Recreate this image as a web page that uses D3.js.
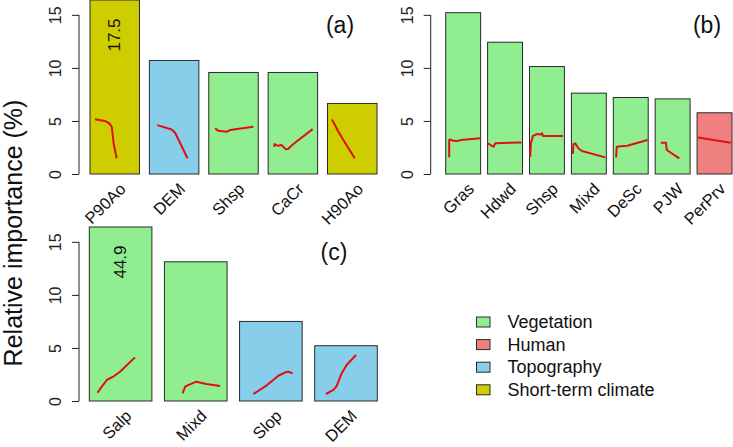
<!DOCTYPE html>
<html>
<head>
<meta charset="utf-8">
<script src="https://cdn.jsdelivr.net/npm/d3@7"></script>
<style>
  html, body { margin: 0; padding: 0; background: #fff; }
  svg { display: block; font-family: "Liberation Sans", Arial, sans-serif; }
</style>
</head>
<body>
<svg id="chart" width="733" height="447"></svg>
<script>
// ---------- data ----------
const groupNames = ["Vegetation", "Human", "Topography", "Short-term climate"];
const groupColors = ["#90EE90", "#F08080", "#87CEEB", "#CDCD00"];
const yTicks = [0, 5, 10, 15];

// Panel (a)
const aVars = ["P90Ao", "DEM", "Shsp", "CaCr", "H90Ao"];
const aValues = [17.5, 10.7, 9.57, 9.57, 6.65];
const aGroups = ["Short-term climate", "Topography", "Vegetation", "Vegetation", "Short-term climate"];
// partial response curves drawn inside each bar: [fraction of bar width, value]
const aCurves = [
  [[0.10, 5.17], [0.30, 5.00], [0.39, 4.77], [0.44, 4.45], [0.48, 2.8], [0.54, 1.48]],
  [[0.16, 4.61], [0.45, 4.20], [0.52, 3.89], [0.77, 1.48]],
  [[0.13, 4.30], [0.19, 4.07], [0.36, 3.98], [0.43, 4.14], [0.90, 4.45]],
  [[0.12, 2.57], [0.13, 2.82], [0.20, 2.66], [0.27, 2.73], [0.36, 2.32], [0.40, 2.35], [0.51, 2.82], [0.90, 4.23]],
  [[0.09, 5.15], [0.22, 3.98], [0.32, 3.20], [0.55, 1.48]]
];

// Panel (b)
const bVars = ["Gras", "Hdwd", "Shsp", "Mixd", "DeSc", "PJW", "PerPrv"];
const bValues = [15.2, 12.42, 10.13, 7.62, 7.21, 7.08, 5.77];
const bGroups = ["Vegetation", "Vegetation", "Vegetation", "Vegetation", "Vegetation", "Vegetation", "Human"];
const bCurves = [
  [[0.10, 1.57], [0.10, 3.20], [0.13, 3.26], [0.22, 3.13], [0.33, 3.10], [0.43, 3.20], [1.00, 3.36]],
  [[0.01, 2.89], [0.12, 2.66], [0.17, 2.57], [0.22, 2.89], [0.97, 2.98]],
  [[0.02, 1.63], [0.04, 2.89], [0.10, 3.60], [0.21, 3.76], [0.31, 3.73], [0.36, 3.83], [0.39, 3.57], [0.96, 3.57]],
  [[0.04, 1.88], [0.06, 2.82], [0.11, 2.89], [0.20, 2.42], [0.30, 2.16], [0.97, 1.57]],
  [[0.08, 1.57], [0.10, 2.57], [0.29, 2.63], [0.40, 2.66], [0.98, 3.20]],
  [[0.16, 2.95], [0.31, 2.95], [0.33, 2.26], [0.69, 1.48]],
  [[0.03, 3.45], [0.96, 2.95]]
];

// Panel (c)
const cVars = ["Salp", "Mixd", "Slop", "DEM"];
const cValues = [44.9, 13.12, 7.5, 5.21];
const cGroups = ["Vegetation", "Vegetation", "Topography", "Topography"];
const cCurves = [
  [[0.13, 0.78], [0.20, 1.35], [0.28, 1.98], [0.38, 2.29], [0.49, 2.76], [0.73, 4.11]],
  [[0.29, 0.72], [0.33, 1.35], [0.38, 1.50], [0.51, 1.82], [0.67, 1.60], [0.89, 1.41]],
  [[0.22, 0.66], [0.44, 1.50], [0.62, 2.38], [0.73, 2.70], [0.78, 2.76], [0.85, 2.60]],
  [[0.18, 0.66], [0.30, 1.04], [0.35, 1.41], [0.43, 2.60], [0.51, 3.39], [0.66, 4.33]]
];

// ---------- drawing ----------
const svg = d3.select("#chart");
const color = d3.scaleOrdinal().domain(groupNames).range(groupColors);
const yMax = 16.4;
const pxPerUnit = 10.61;

function drawPanel(cfg) {
  const { vars, values, groups, curves, bottom, axisX, x0, x1, tag, tagX, tagY } = cfg;
  const g = svg.append("g");
  const y = d3.scaleLinear().domain([0, yMax]).range([bottom, bottom - yMax * pxPerUnit]).clamp(true);
  const x = d3.scaleBand().domain(vars).range([x0, x1]).paddingInner(1 / 6).paddingOuter(0);

  // bars
  g.selectAll("rect.bar").data(vars).join("rect")
    .attr("class", "bar")
    .attr("x", d => x(d))
    .attr("width", x.bandwidth())
    .attr("y", (d, i) => y(values[i]))
    .attr("height", (d, i) => y(0) - y(values[i]))
    .attr("fill", (d, i) => color(groups[i]))
    .attr("stroke", "#2a2a2a")
    .attr("stroke-width", 1);

  // clipped-value annotations
  vars.forEach((d, i) => {
    if (values[i] > yMax) {
      const cx = x(d) + x.bandwidth() / 2;
      const cy = y(yMax) + 35;
      g.append("text")
        .attr("transform", `translate(${cx},${cy}) rotate(-90)`)
        .attr("text-anchor", "middle")
        .attr("dominant-baseline", "central")
        .attr("font-size", 17)
        .attr("fill", "#111")
        .text(values[i].toFixed(1));
    }
  });

  // response curves
  const line = d3.line().x(p => p[0]).y(p => p[1]);
  vars.forEach((d, i) => {
    const pts = curves[i].map(p => [x(d) + p[0] * x.bandwidth(), y(p[1])]);
    g.append("path")
      .attr("d", line(pts))
      .attr("fill", "none")
      .attr("stroke", "#e01010")
      .attr("stroke-width", 2)
      .attr("stroke-linejoin", "round");
  });

  // y axis
  const yAxisScale = d3.scaleLinear().domain([0, yMax]).range([bottom, bottom - yMax * pxPerUnit]);
  const ax = g.append("g").attr("transform", `translate(${axisX},0)`)
    .call(d3.axisLeft(yAxisScale).tickValues(yTicks).tickSize(7).tickSizeOuter(0).tickFormat(d3.format("d")));
  ax.select(".domain").remove();
  ax.append("line")
    .attr("x1", 0).attr("x2", 0)
    .attr("y1", yAxisScale(0)).attr("y2", yAxisScale(15))
    .attr("stroke", "#222");
  ax.selectAll(".tick line").attr("stroke", "#222");
  ax.selectAll(".tick text")
    .attr("x", null).attr("dy", null)
    .attr("transform", "translate(-18,0) rotate(-90)")
    .attr("text-anchor", "middle")
    .attr("font-size", 16)
    .attr("font-family", "Liberation Sans, Arial, sans-serif")
    .attr("fill", "#222");

  // x labels
  g.selectAll("text.xlab").data(vars).join("text")
    .attr("class", "xlab")
    .attr("transform", d => `translate(${x(d) + x.bandwidth() / 2 + 12},${bottom + 16}) rotate(-45)`)
    .attr("text-anchor", "end")
    .attr("font-size", 16.5)
    .attr("fill", "#111")
    .text(d => d);

  // panel tag
  g.append("text")
    .attr("x", tagX).attr("y", tagY)
    .attr("text-anchor", "middle")
    .attr("font-size", 23)
    .attr("fill", "#111")
    .text(tag);
}

drawPanel({ vars: aVars, values: aValues, groups: aGroups, curves: aCurves,
  bottom: 174, axisX: 79, x0: 90, x1: 377, tag: "(a)", tagX: 340, tagY: 33 });
drawPanel({ vars: bVars, values: bValues, groups: bGroups, curves: bCurves,
  bottom: 174, axisX: 430.7, x0: 445.7, x1: 732, tag: "(b)", tagX: 707, tagY: 33 });
drawPanel({ vars: cVars, values: cValues, groups: cGroups, curves: cCurves,
  bottom: 401, axisX: 79, x0: 89.3, x1: 377.3, tag: "(c)", tagX: 334, tagY: 260 });

// y-axis title
svg.append("text")
  .attr("transform", "translate(22,233) rotate(-90)")
  .attr("text-anchor", "middle")
  .attr("font-size", 25)
  .attr("fill", "#111")
  .text("Relative importance (%)");

// legend
const legend = svg.append("g");
groupNames.forEach((name, i) => {
  const yy = 328 + i * 22.6;
  legend.append("rect")
    .attr("x", 476.5).attr("y", yy - 11)
    .attr("width", 13.5).attr("height", 10)
    .attr("fill", groupColors[i])
    .attr("stroke", "#2a2a2a").attr("stroke-width", 1);
  legend.append("text")
    .attr("x", 507.5).attr("y", yy)
    .attr("font-size", 18)
    .attr("fill", "#111")
    .text(name);
});
</script>
</body>
</html>
